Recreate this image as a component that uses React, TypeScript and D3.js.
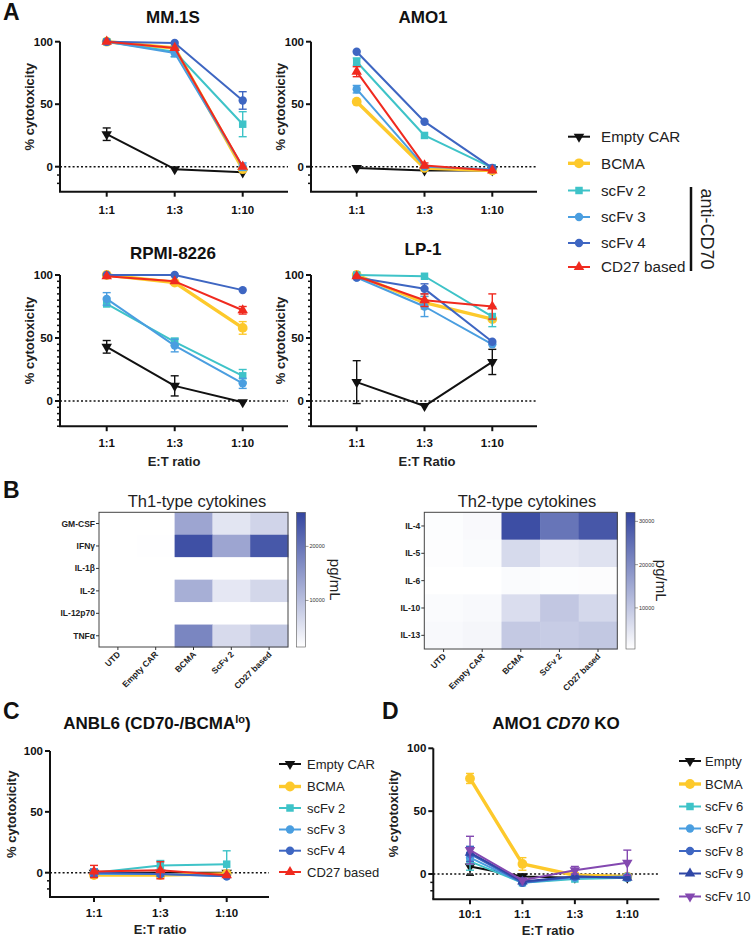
import React from "react";
import * as d3 from "d3";

const FONT = "'Liberation Sans', Arial, Helvetica, sans-serif";

// ---------- Panel A / C data ----------
const ratiosA = ["1:1", "1:3", "1:10"];
const seriesA = ["Empty CAR", "BCMA", "scFv 2", "scFv 3", "scFv 4", "CD27 based"];
const colorsA = ["#111111", "#fdc92b", "#3ec3c8", "#4a9ee0", "#3e66c2", "#f02a1f"];
const shapesA = ["triDown", "circle", "square", "circle", "circle", "triUp"];

const mm1sMean = [
  [26, -2, -4.5],
  [100, 95, -2],
  [100, 92, 34],
  [100, 91, 0],
  [100, 99, 53],
  [100, 95, 0],
];
const mm1sErr = [
  [5, 0, 0],
  [0, 0, 0],
  [0, 4, 10],
  [0, 3, 3],
  [0, 0, 7],
  [0, 0, 0],
];
const amo1Mean = [
  [-1, -3, -3],
  [52, -1, -3],
  [84, 25, -1],
  [62, 0, -2],
  [92, 36, -1],
  [76, 1, -3],
];
const amo1Err = [
  [0, 0, 0],
  [0, 0, 0],
  [3, 0, 0],
  [3, 0, 0],
  [0, 0, 0],
  [4, 2, 0],
];
const rpmiMean = [
  [43, 12, -1],
  [100, 94, 58],
  [77, 47, 20],
  [81, 44, 14],
  [100, 100, 88],
  [99, 95, 72],
];
const rpmiErr = [
  [5, 8, 0],
  [0, 0, 5],
  [0, 3, 5],
  [5, 5, 4],
  [0, 0, 0],
  [0, 0, 3],
];
const lp1Mean = [
  [15, -4, 31],
  [100, 78, 65],
  [100, 99, 67],
  [98, 75, 45],
  [98, 89, 47],
  [99, 80, 75],
];
const lp1Err = [
  [17, 0, 10],
  [0, 5, 0],
  [0, 0, 8],
  [0, 8, 0],
  [0, 4, 0],
  [0, 5, 10],
];
const anblMean = [
  [0, 0, 0],
  [-2, -2, -1],
  [0, 6, 7],
  [-1, -1, -3],
  [0, -1, -3],
  [1, 2, -2],
];
const anblErr = [
  [0, 0, 0],
  [0, 0, 2],
  [3, 4, 11],
  [0, 0, 0],
  [3, 2, 0],
  [5, 7, 0],
];

// ---------- Panel D data ----------
const ratiosD = ["10:1", "1:1", "1:3", "1:10"];
const seriesD = ["Empty", "BCMA", "scFv 6", "scFv 7", "scFv 8", "scFv 9", "scFv 10"];
const colorsD = ["#111111", "#fdc92b", "#3ec3c8", "#4a9ee0", "#3e66c2", "#2f47a6", "#8348b0"];
const shapesD = ["triDown", "circle", "square", "circle", "circle", "triUp", "triDown"];
const koMean = [
  [6, -2, -3, -3],
  [76, 8, -1, -2],
  [10, -7, -4, -3],
  [13, -7, -3, -2],
  [16, -7, -2, -3],
  [17, -6, -2, -3],
  [19, -5, 3, 9],
];
const koErr = [
  [7, 2, 0, 0],
  [4, 5, 0, 0],
  [7, 0, 0, 0],
  [0, 0, 0, 0],
  [6, 0, 0, 0],
  [0, 0, 0, 0],
  [11, 0, 3, 10],
];

// ---------- Panel B data ----------
const heatCols = ["UTD", "Empty CAR", "BCMA", "ScFv 2", "CD27 based"];
const th1Rows = ["GM-CSF", "IFNγ", "IL-1β", "IL-2", "IL-12p70", "TNFα"];
const th1Values = [
  [900, 800, 13400, 4900, 7100],
  [1000, 1500, 24800, 13400, 23800],
  [600, 600, 1200, 900, 1000],
  [700, 700, 12100, 4600, 6800],
  [600, 600, 1100, 900, 900],
  [800, 800, 17600, 6300, 8800],
];
const th1Range = [1400, 26300];
const th1Ticks = [10000, 20000];

const th2Rows = ["IL-4", "IL-5", "IL-6", "IL-10", "IL-13"];
const th2Values = [
  [900, 1500, 30500, 24000, 29000],
  [800, 1200, 6800, 4600, 5400],
  [500, 500, 1200, 900, 1000],
  [1200, 1600, 6200, 10000, 7200],
  [1600, 2000, 9700, 9200, 9900],
];
const th2Range = [500, 32100];
const th2Ticks = [10000, 20000, 30000];

// ---------- helpers ----------
function symbolPath(shape: string, size: number) {
  const type =
    shape === "circle" ? d3.symbolCircle : shape === "square" ? d3.symbolSquare : d3.symbolTriangle;
  return d3.symbol().type(type).size(size)() as string;
}

function Marker({ shape, x, y, color, big }: any) {
  const area = shape === "circle" ? (big ? 75 : 55) : shape === "square" ? 56 : 48;
  const rot = shape === "triDown" ? 180 : 0;
  return (
    <path
      d={symbolPath(shape, area)}
      transform={`translate(${x},${y}) rotate(${rot})`}
      fill={color}
    />
  );
}

type PanelProps = {
  axisX: number;
  xEnd: number;
  catStart: number;
  catEnd: number;
  y100: number;
  y0: number;
  cats: string[];
  colors: string[];
  shapes: string[];
  means: number[][];
  errs: number[][];
  minor: number[];
  tickLabelY: number;
  ylabelX: number;
};

function LinePanel(p: PanelProps) {
  const x = d3.scalePoint<string>().domain(p.cats).range([p.catStart, p.catEnd]);
  const y = d3.scaleLinear().domain([0, 100]).range([p.y0, p.y100]);
  const yBottom = y(-20);
  const line = d3
    .line<number>()
    .x((_, i) => x(p.cats[i]) as number)
    .y((d) => y(d));
  return (
    <g>
      <line x1={p.axisX} x2={p.xEnd} y1={y(0)} y2={y(0)} stroke="#111" strokeWidth={1.4} strokeDasharray="2,2.2" />
      {p.means.map((m, si) => (
        <g key={si}>
          <path
            d={line(m) as string}
            fill="none"
            stroke={p.colors[si]}
            strokeWidth={p.colors[si] === "#fdc92b" ? 3.4 : 2}
            strokeLinejoin="round"
          />
          {m.map((v, i) => {
            const e = p.errs[si][i];
            if (!e) return null;
            const cx = x(p.cats[i]) as number;
            return (
              <g key={i} stroke={p.colors[si]} strokeWidth={1.4}>
                <line x1={cx} x2={cx} y1={y(v - e)} y2={y(v + e)} />
                <line x1={cx - 4} x2={cx + 4} y1={y(v - e)} y2={y(v - e)} />
                <line x1={cx - 4} x2={cx + 4} y1={y(v + e)} y2={y(v + e)} />
              </g>
            );
          })}
          {m.map((v, i) => (
            <Marker
              key={"m" + i}
              shape={p.shapes[si]}
              x={x(p.cats[i])}
              y={y(v)}
              color={p.colors[si]}
              big={p.colors[si] === "#fdc92b"}
            />
          ))}
        </g>
      ))}
      <line x1={p.axisX} x2={p.axisX} y1={y(100)} y2={yBottom} stroke="#111" strokeWidth={2} />
      <line x1={p.axisX - 1} x2={p.xEnd} y1={yBottom} y2={yBottom} stroke="#111" strokeWidth={2} />
      {[0, 50, 100].map((t) => (
        <g key={t}>
          <line x1={p.axisX - 5} x2={p.axisX} y1={y(t)} y2={y(t)} stroke="#111" strokeWidth={2} />
          <text
            x={p.axisX - 7}
            y={y(t) + 4}
            textAnchor="end"
            fontSize={11.5}
            fontWeight="bold"
            fontFamily={FONT}
            fill="#111"
          >
            {t}
          </text>
        </g>
      ))}
      {p.minor.map((t, i) => (
        <line key={i} x1={p.axisX - 3} x2={p.axisX} y1={y(t)} y2={y(t)} stroke="#111" strokeWidth={1.5} />
      ))}
      {p.cats.map((c) => (
        <g key={c}>
          <line
            x1={x(c) as number}
            x2={x(c) as number}
            y1={yBottom}
            y2={yBottom + 5}
            stroke="#111"
            strokeWidth={2}
          />
          <text
            x={x(c) as number}
            y={p.tickLabelY}
            textAnchor="middle"
            fontSize={11.5}
            fontWeight="bold"
            fontFamily={FONT}
            fill="#111"
          >
            {c}
          </text>
        </g>
      ))}
      <text
        transform={`translate(${p.ylabelX},${y(48)}) rotate(-90)`}
        textAnchor="middle"
        fontSize={13}
        fontWeight="bold"
        fontFamily={FONT}
        fill="#222"
      >
        % cytotoxicity
      </text>
    </g>
  );
}

function Legend({ names, colors, shapes, lx, tx, ys, fontSize }: any) {
  return (
    <g>
      {names.map((n: string, i: number) => (
        <g key={n}>
          <line
            x1={lx}
            x2={lx + 22}
            y1={ys[i]}
            y2={ys[i]}
            stroke={colors[i]}
            strokeWidth={colors[i] === "#fdc92b" ? 3.4 : 2}
          />
          <Marker shape={shapes[i]} x={lx + 11} y={ys[i]} color={colors[i]} big={colors[i] === "#fdc92b"} />
          <text x={tx} y={ys[i] + fontSize * 0.36} fontSize={fontSize} fontFamily={FONT} fill="#222">
            {n}
          </text>
        </g>
      ))}
    </g>
  );
}

function Heatmap({ x0, x1, y0, y1, rows, values, range, ticks, title, titleX, cbX, pgX }: any) {
  const xs = d3.scaleBand<string>().domain(heatCols).range([x0, x1]);
  const ys = d3.scaleBand<string>().domain(rows).range([y0, y1]);
  const color = d3
    .scaleLinear<string>()
    .domain(range)
    .range(["#ffffff", "#33459f"])
    .interpolate(d3.interpolateRgb)
    .clamp(true);
  const cb = d3.scaleLinear().domain(range).range([y1, y0]);
  const gid = "grad" + Math.round(x0);
  return (
    <g>
      <text x={titleX} y={507} textAnchor="middle" fontSize={16.5} fontFamily={FONT} fill="#222">
        {title}
      </text>
      {rows.map((r: string, ri: number) =>
        heatCols.map((c, ci) => (
          <rect
            key={r + c}
            x={xs(c)}
            y={ys(r)}
            width={xs.bandwidth() + 0.5}
            height={ys.bandwidth() + 0.5}
            fill={color(values[ri][ci])}
          />
        ))
      )}
      <rect x={x0} y={y0} width={x1 - x0} height={y1 - y0} fill="none" stroke="#444" strokeWidth={1} />
      {rows.map((r: string) => (
        <g key={r}>
          <line x1={x0 - 3} x2={x0} y1={(ys(r) as number) + ys.bandwidth() / 2} y2={(ys(r) as number) + ys.bandwidth() / 2} stroke="#333" />
          <text
            x={x0 - 4}
            y={(ys(r) as number) + ys.bandwidth() / 2 + 3}
            textAnchor="end"
            fontSize={8.5}
            fontWeight="bold"
            fontFamily={FONT}
            fill="#222"
          >
            {r}
          </text>
        </g>
      ))}
      {heatCols.map((c) => {
        const cx = (xs(c) as number) + xs.bandwidth() / 2;
        return (
          <g key={c}>
            <line x1={cx} x2={cx} y1={y1} y2={y1 + 3} stroke="#333" />
            <text
              transform={`translate(${cx + 3},${y1 + 8}) rotate(-45)`}
              textAnchor="end"
              fontSize={8.5}
              fontWeight="bold"
              fontFamily={FONT}
              fill="#222"
            >
              {c}
            </text>
          </g>
        );
      })}
      <defs>
        <linearGradient id={gid} x1="0" y1="1" x2="0" y2="0">
          <stop offset="0" stopColor="#ffffff" />
          <stop offset="1" stopColor="#33459f" />
        </linearGradient>
      </defs>
      <rect x={cbX} y={y0} width={9} height={y1 - y0} fill={`url(#${gid})`} stroke="#555" strokeWidth={0.6} />
      {ticks.map((t: number) => (
        <g key={t}>
          <line x1={cbX + 9} x2={cbX + 12} y1={cb(t)} y2={cb(t)} stroke="#555" strokeWidth={0.6} />
          <text x={cbX + 13} y={cb(t) + 2} fontSize={5.5} fontFamily={FONT} fill="#333">
            {t}
          </text>
        </g>
      ))}
      <text
        transform={`translate(${pgX},${(y0 + y1) / 2}) rotate(90)`}
        textAnchor="middle"
        fontSize={15}
        fontFamily={FONT}
        fill="#222"
      >
        pg/mL
      </text>
    </g>
  );
}

const titleStyle = { fontSize: 17, fontWeight: "bold" as const, fontFamily: FONT, fill: "#111" };
const letterStyle = { fontSize: 23, fontWeight: "bold" as const, fontFamily: FONT, fill: "#111" };

export default function App() {
  const legAys = [136.7, 163.3, 190.5, 217, 243, 267];
  const legCys = [764, 786.5, 808, 829.5, 850.7, 872];
  const legDys = [761, 784, 806.5, 828.5, 851, 873.5, 896.5];
  return (
    <svg
      width={751}
      height={937}
      style={{ position: "absolute", left: 0, top: 0, background: "#fff" }}
    >
      <rect width={751} height={937} fill="#fff" />
      <text x={3} y={20} {...letterStyle}>A</text>
      <text x={3} y={498} {...letterStyle}>B</text>
      <text x={3} y={719} {...letterStyle}>C</text>
      <text x={382} y={719} {...letterStyle}>D</text>

      <text x={173} y={23} textAnchor="middle" {...titleStyle}>MM.1S</text>
      <text x={423} y={23} textAnchor="middle" {...titleStyle}>AMO1</text>
      <text x={173} y={259} textAnchor="middle" {...titleStyle}>RPMI-8226</text>
      <text x={423} y={255} textAnchor="middle" {...titleStyle}>LP-1</text>

      <LinePanel
        axisX={60} xEnd={288} catStart={106.7} catEnd={242.7} y100={41.7} y0={166.7}
        cats={ratiosA} colors={colorsA} shapes={shapesA} means={mm1sMean} errs={mm1sErr}
        minor={[-20 / 3, -40 / 3]} tickLabelY={214} ylabelX={34}
      />
      <LinePanel
        axisX={311} xEnd={537} catStart={356.7} catEnd={492.3} y100={41.7} y0={166.7}
        cats={ratiosA} colors={colorsA} shapes={shapesA} means={amo1Mean} errs={amo1Err}
        minor={[-20 / 3, -40 / 3]} tickLabelY={214} ylabelX={285}
      />
      <LinePanel
        axisX={60} xEnd={288} catStart={106.7} catEnd={242.7} y100={275} y0={401}
        cats={ratiosA} colors={colorsA} shapes={shapesA} means={rpmiMean} errs={rpmiErr}
        minor={d3.range(-20, 100, 5).filter((v) => v % 50 !== 0)} tickLabelY={447} ylabelX={34}
      />
      <LinePanel
        axisX={311} xEnd={537} catStart={356.7} catEnd={492.3} y100={275} y0={401}
        cats={ratiosA} colors={colorsA} shapes={shapesA} means={lp1Mean} errs={lp1Err}
        minor={d3.range(-20, 100, 5).filter((v) => v % 50 !== 0)} tickLabelY={447} ylabelX={285}
      />
      <text x={174} y={466} textAnchor="middle" fontSize={13} fontWeight="bold" fontFamily={FONT} fill="#222">E:T ratio</text>
      <text x={427} y={466} textAnchor="middle" fontSize={13} fontWeight="bold" fontFamily={FONT} fill="#222">E:T Ratio</text>

      <Legend names={seriesA} colors={colorsA} shapes={shapesA} lx={568} tx={601} ys={legAys} fontSize={15.2} />
      <line x1={691} x2={691} y1={187} y2={271} stroke="#111" strokeWidth={2.5} />
      <text
        transform="translate(701,229) rotate(90)"
        textAnchor="middle"
        fontSize={18}
        fontFamily={FONT}
        fill="#222"
      >
        anti-CD70
      </text>

      <Heatmap
        x0={99} x1={288} y0={512.3} y1={647} rows={th1Rows} values={th1Values}
        range={th1Range} ticks={th1Ticks} title="Th1-type cytokines" titleX={197}
        cbX={296.5} pgX={330}
      />
      <Heatmap
        x0={424.3} x1={617.3} y0={512.3} y1={649} rows={th2Rows} values={th2Values}
        range={th2Range} ticks={th2Ticks} title="Th2-type cytokines" titleX={527}
        cbX={626} pgX={656}
      />

      <text x={157} y={729} textAnchor="middle" {...titleStyle}>
        ANBL6 (CD70-/BCMA
        <tspan fontSize={11} dy={-6}>lo</tspan>
        <tspan dy={6}>)</tspan>
      </text>
      <LinePanel
        axisX={50} xEnd={269} catStart={94} catEnd={226.7} y100={751} y0={872.7}
        cats={ratiosA} colors={colorsA} shapes={shapesA} means={anblMean} errs={anblErr}
        minor={[-20 / 3, -40 / 3]} tickLabelY={917} ylabelX={16}
      />
      <text x={160} y={934} textAnchor="middle" fontSize={13} fontWeight="bold" fontFamily={FONT} fill="#222">E:T ratio</text>
      <Legend names={seriesA} colors={colorsA} shapes={shapesA} lx={279} tx={307} ys={legCys} fontSize={13} />

      <text x={556} y={729} textAnchor="middle" {...titleStyle}>
        AMO1 <tspan fontStyle="italic">CD70</tspan> KO
      </text>
      <LinePanel
        axisX={433.3} xEnd={659.3} catStart={470} catEnd={627.3} y100={748.3} y0={874}
        cats={ratiosD} colors={colorsD} shapes={shapesD} means={koMean} errs={koErr}
        minor={[-20 / 3, -40 / 3]} tickLabelY={918} ylabelX={398}
      />
      <text x={548} y={935} textAnchor="middle" fontSize={13} fontWeight="bold" fontFamily={FONT} fill="#222">E:T ratio</text>
      <Legend names={seriesD} colors={colorsD} shapes={shapesD} lx={679} tx={705} ys={legDys} fontSize={13} />
    </svg>
  );
}
